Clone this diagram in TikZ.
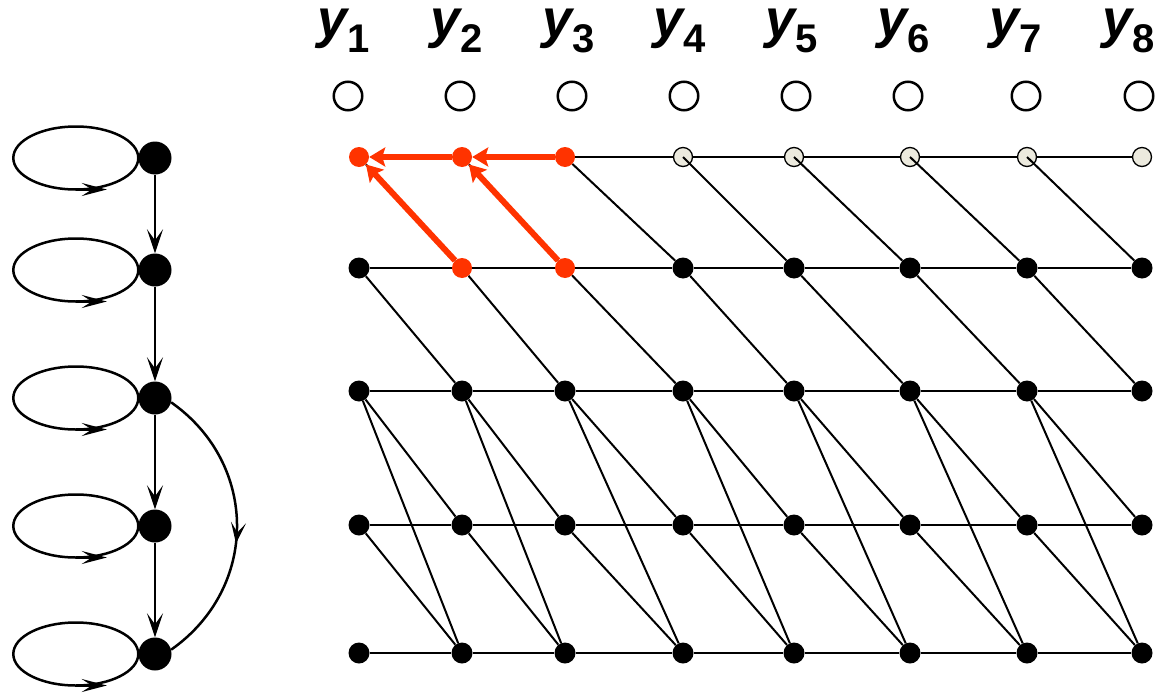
\documentclass[tikz,border=0pt]{standalone}
\usepackage{fontspec}
\setmainfont{Liberation Sans}
\usetikzlibrary{arrows.meta,decorations.markings}
\definecolor{hmmred}{RGB}{255,51,0}
\definecolor{paleobs}{RGB}{236,234,222}
\begin{document}
\begin{tikzpicture}[x=1pt,y=-1pt,
  state/.style={circle,fill=black,inner sep=0pt,minimum size=33pt},
  tnode/.style={circle,fill=black,inner sep=0pt,minimum size=21pt},
  rnode/.style={circle,fill=hmmred,inner sep=0pt,minimum size=20pt},
  bnode/.style={circle,fill=paleobs,draw=black,line width=1.3pt,inner sep=0pt,minimum size=19pt},
  obs/.style={circle,draw=black,line width=2.5pt,inner sep=0pt,minimum size=28.5pt},
  lbl/.style={anchor=base,inner sep=0pt},
  trans/.style={line width=2.5pt,-{Stealth[length=24pt,width=16pt,inset=11pt]}},
  tedge/.style={line width=2pt},
  redarrow/.style={hmmred,line width=6pt,-{Stealth[length=16pt,width=19pt,inset=3pt]}},
  selfloop/.style={line width=2.5pt,postaction={decorate},
    decoration={markings,mark=at position 0.75 with
      {\draw[line width=2.5pt,-{Stealth[length=25pt,width=13pt,inset=10pt]}] (0pt,0pt) -- (31pt,0pt);}}},
  skiparc/.style={line width=2.5pt,postaction={decorate},
    decoration={markings,mark=at position 0.56 with
      {\arrow{Stealth[length=21pt,width=15pt,inset=10pt]}}}},
]
\useasboundingbox (0,0) rectangle (1157,696);

% ---------- left: HMM topology ----------
\foreach \i/\y in {1/158,2/270,3/398,4/526,5/654}
  \node[state] (s\i) at (155,\y) {};
\foreach \i in {1,...,5}
  \draw[selfloop] (s\i.west) arc[start angle=0,end angle=360,x radius=62.5pt,y radius=31.5pt];
\foreach \i/\j in {1/2,2/3,3/4,4/5}
  \draw[trans] (s\i) -- (s\j);
\draw[skiparc] (s3.-15) .. controls (259,464) and (259,588) .. (s5.15);

% ---------- labels and observation circles ----------
\foreach \k/\lx/\ox in {1/344/348,2/457/460,3/569/572,4/680/684,5/792/796,6/904/908,7/1016/1026,8/1129/1139}{
  \node[lbl] (l\k) at (\lx,37) {\fontsize{54}{54}\selectfont\bfseries\itshape y\raisebox{-15.5pt}{\fontsize{40}{40}\selectfont\upshape \k}};
  \node[obs] (o\k) at (\ox,96) {};
}

% ---------- trellis nodes ----------
\foreach \c/\x in {1/359,2/462,3/565,4/683,5/794,6/910,7/1027,8/1142}
  \foreach \r/\y in {3/391,4/525,5/653}
    \node[tnode] (g\r\c) at (\x,\y) {};
\foreach \c/\x in {1/359,4/683,5/794,6/910,7/1027,8/1142}
  \node[tnode] (g2\c) at (\x,268) {};
\node[rnode] (g22) at (462,268) {};
\node[rnode] (g23) at (565,268) {};
\node[rnode] (g11) at (359,157) {};
\node[rnode] (g12) at (462,157) {};
\node[rnode] (g13) at (565,157) {};
\foreach \c/\x in {4/683,5/794,6/910,7/1027,8/1142}
  \node[bnode] (g1\c) at (\x,157) {};

% ---------- trellis edges ----------
% horizontal (self transitions)
\foreach \r in {2,3,4,5}{
  \foreach \c/\n in {1/2,2/3,3/4,4/5,5/6,6/7,7/8}{
    \draw[tedge] (g\r\c) -- (g\r\n);
  }
}
\foreach \c/\n in {3/4,4/5,5/6,6/7,7/8}
  \draw[tedge] (g1\c) -- (g1\n);
% next-state transitions
\foreach \r/\s in {2/3,3/4,4/5}{
  \foreach \c/\n in {1/2,2/3,3/4,4/5,5/6,6/7,7/8}{
    \draw[tedge] (g\r\c) -- (g\s\n);
  }
}
% skip transitions
\foreach \c/\n in {1/2,2/3,3/4,4/5,5/6,6/7,7/8}
  \draw[tedge] (g3\c) -- (g5\n);
% from first row
\foreach \c/\n in {1/2,2/3,3/4}
  \draw[tedge] (g1\c) -- (g2\n);
\foreach \c/\n in {4/5,5/6,6/7,7/8}
  \draw[tedge] (g1\c.center) -- (g2\n);

% ---------- best path (red) ----------
\draw[redarrow] (g13) -- (g12);
\draw[redarrow] (g12) -- (g11);
\draw[redarrow] (g23) -- (g12);
\draw[redarrow] (g22) -- (g11);
\end{tikzpicture}
\end{document}
